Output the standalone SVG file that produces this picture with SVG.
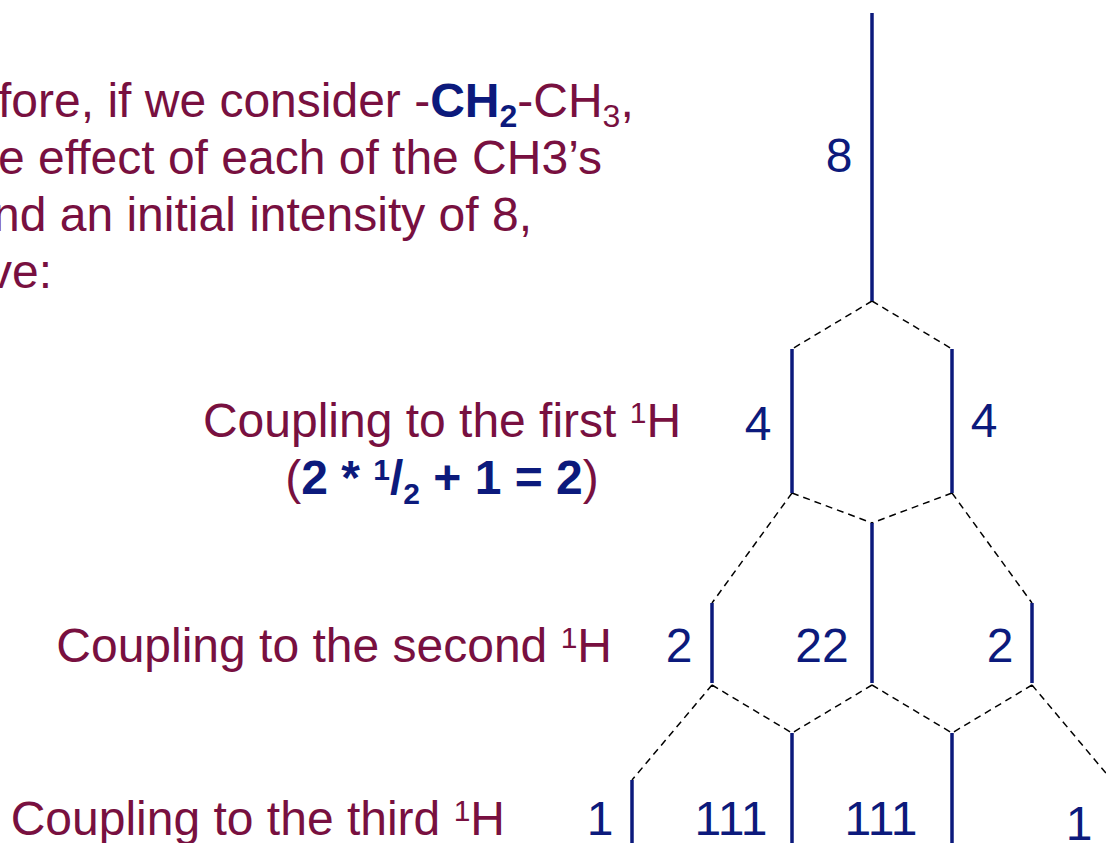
<svg xmlns="http://www.w3.org/2000/svg" width="1106" height="843" viewBox="0 0 1106 843">
<style>
.t{font-family:"Liberation Sans",Arial,sans-serif;font-size:48px;fill:#781040}
.n{font-family:"Liberation Sans",Arial,sans-serif;font-size:48px;fill:#0c1a7c;text-anchor:middle}
.b{font-weight:bold;fill:#0c1a7c}
.peak{stroke:#0c1a7c;stroke-width:3.5;fill:none}
.dash{stroke:#000;stroke-width:1.5;stroke-dasharray:7 5;fill:none}
</style>
<rect width="1106" height="843" fill="#fff"/>
<g id="intro">
<text class="t" x="-2" y="117">fore, if we consider -<tspan class="b">CH</tspan><tspan class="b" font-size="32" dy="10">2</tspan><tspan dy="-10">-CH</tspan><tspan font-size="32" dy="10">3</tspan><tspan dy="-10">,</tspan></text>
<text class="t" x="-2" y="174">e effect of each of the CH3’s</text>
<text class="t" x="-7" y="231">nd an initial intensity of 8,</text>
<text class="t" x="-12" y="288">ve:</text>
</g>
<g id="label-first">
<text class="t" x="442" y="437" text-anchor="middle">Coupling to the first <tspan font-size="30" dy="-14">1</tspan><tspan dy="14">H</tspan></text>
<text class="t" x="442" y="494" text-anchor="middle">(<tspan class="b">2 * </tspan><tspan class="b" font-size="30" dy="-14">1</tspan><tspan class="b" dy="14">/</tspan><tspan class="b" font-size="30" dy="10">2</tspan><tspan class="b" dy="-10"> + 1 = 2</tspan>)</text>
</g>
<g id="label-second">
<text class="t" x="612" y="662" text-anchor="end">Coupling to the second <tspan font-size="30" dy="-14">1</tspan><tspan dy="14">H</tspan></text>
</g>
<g id="label-third">
<text class="t" x="505" y="835" text-anchor="end">Coupling to the third <tspan font-size="30" dy="-14">1</tspan><tspan dy="14">H</tspan></text>
</g>
<g id="connectors">
<path class="dash" d="M872 301L792 349M872 301L952 349"/>
<path class="dash" d="M792 493L872 523M952 493L872 523M792 493L712 603M952 493L1032 603"/>
<path class="dash" d="M712 685L792 733M872 685L792 733M872 685L952 733M1032 685L952 733M712 685L632 780M1032 685L1110 778"/>
</g>
<g id="peak-8"><line class="peak" x1="872" y1="13" x2="872" y2="301"/><text class="n" x="839" y="172">8</text></g>
<g id="peak-4a"><line class="peak" x1="792" y1="349" x2="792" y2="493"/><text class="n" x="758" y="440">4</text></g>
<g id="peak-4b"><line class="peak" x1="952" y1="349" x2="952" y2="493"/><text class="n" x="984" y="437">4</text></g>
<g id="peak-2a"><line class="peak" x1="712" y1="603" x2="712" y2="683"/><text class="n" x="679" y="662">2</text></g>
<g id="peak-22"><line class="peak" x1="872" y1="523" x2="872" y2="683"/><text class="n" x="822" y="662">22</text></g>
<g id="peak-2b"><line class="peak" x1="1032" y1="603" x2="1032" y2="683"/><text class="n" x="1000" y="662">2</text></g>
<g id="peak-1a"><line class="peak" x1="632" y1="780" x2="632" y2="843"/><text class="n" x="600" y="835">1</text></g>
<g id="peak-111a"><line class="peak" x1="792" y1="733" x2="792" y2="843"/><text class="n" x="731" y="835">111</text></g>
<g id="peak-111b"><line class="peak" x1="952" y1="733" x2="952" y2="843"/><text class="n" x="881" y="835">111</text></g>
<g id="peak-1b"><text class="n" x="1079" y="840">1</text></g>
</svg>
